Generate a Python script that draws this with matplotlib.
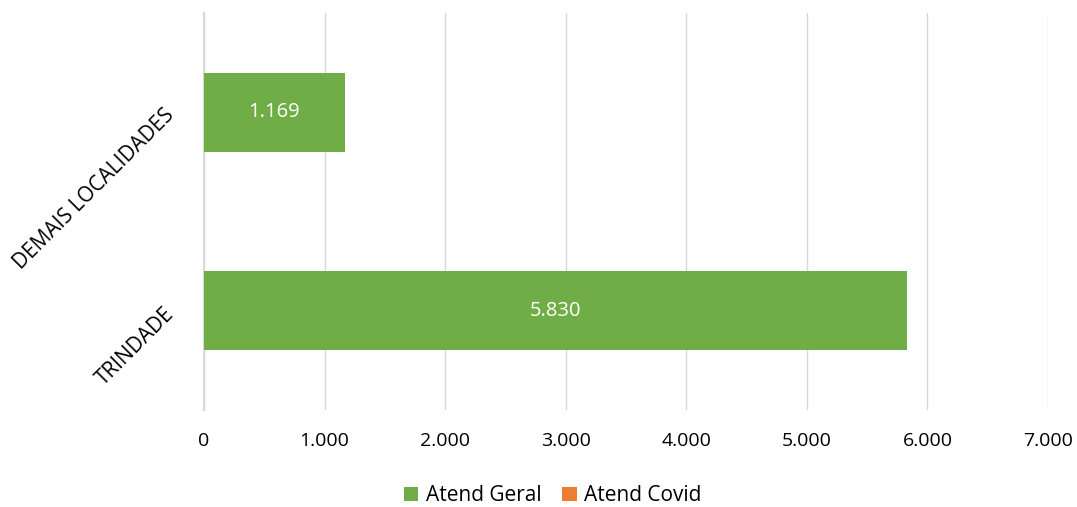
import numpy as np
import matplotlib.pyplot as plt
from matplotlib.ticker import FuncFormatter

# Chart data
categories = ["TRINDADE", "DEMAIS LOCALIDADES"]
atend_geral = [5830, 1169]
atend_covid = [0, 0]
series_names = ["Atend Geral", "Atend Covid"]
series_colours = ["#70AD47", "#ED7D31"]

plt.rcParams["font.family"] = ["Open Sans", "DejaVu Sans"]

fig = plt.figure(figsize=(10.77, 5.07), dpi=100)
ax = fig.add_axes([0.1894, 0.1913, 0.7837, 0.7831])

y = np.arange(len(categories))
b1 = ax.barh(y, atend_geral, height=0.4, color=series_colours[0], label=series_names[0], zorder=3)
b2 = ax.barh(y, atend_covid, height=0.4, left=atend_geral, color=series_colours[1], label=series_names[1], zorder=3)

# value labels inside the green bars
labels = [f"{v:,}".replace(",", ".") for v in atend_geral]
ax.bar_label(b1, labels=labels, label_type="center", color="white", fontsize=14.5)

ax.set_xlim(0, 7000)
ax.set_ylim(-0.5, 1.5)
ax.set_xticks(np.arange(0, 7001, 1000))
ax.xaxis.set_major_formatter(FuncFormatter(lambda v, p: f"{int(v):,}".replace(",", ".")))
ax.set_yticks(y)
ax.set_yticklabels(categories, rotation=45, ha="right", va="center", rotation_mode="anchor")
ax.tick_params(axis="x", length=0, labelsize=14, colors="black", pad=16)
ax.tick_params(axis="y", length=0, labelsize=15, colors="black", pad=24)

ax.grid(axis="x", color="#D9D9D9", linewidth=1, zorder=0)
for s in ["top", "right", "bottom"]:
    ax.spines[s].set_visible(False)
ax.spines["left"].set_color("#D9D9D9")
ax.spines["left"].set_linewidth(1.5)

fig.legend(handles=[b1, b2], labels=series_names, loc="center", bbox_to_anchor=(0.513, 0.022),
           ncol=2, frameon=False, fontsize=15, handlelength=0.7, handleheight=0.7,
           handletextpad=0.35, columnspacing=1.0)

plt.savefig("out.png", dpi=100)
